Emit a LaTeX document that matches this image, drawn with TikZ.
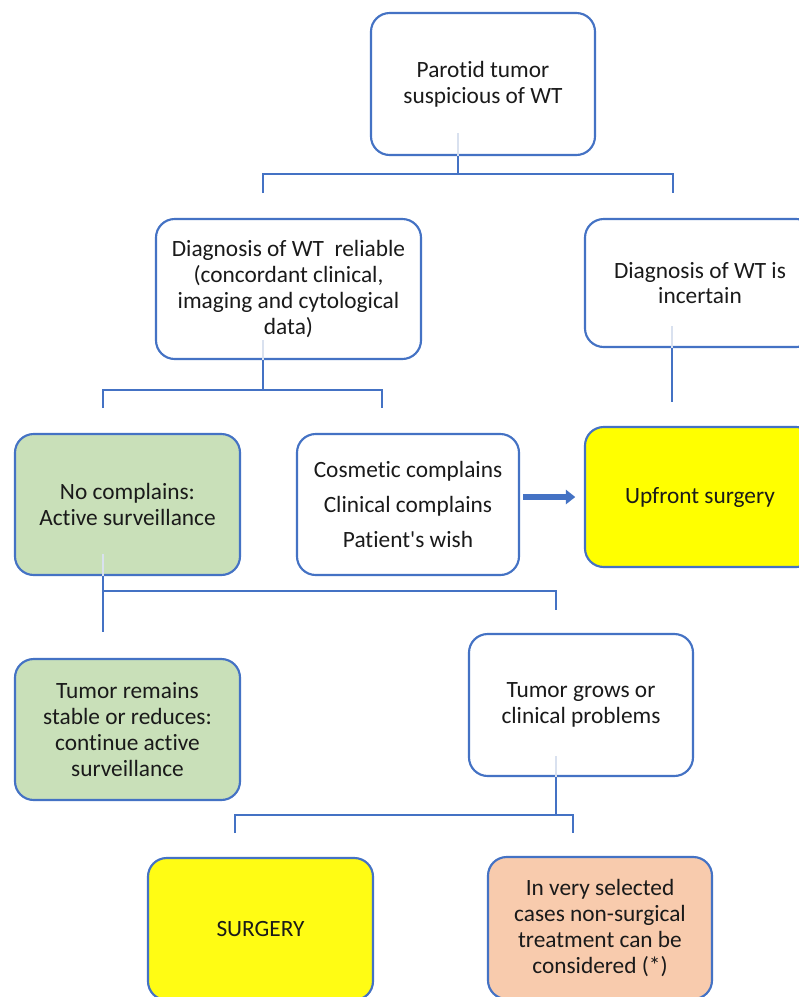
\documentclass[tikz,border=0pt]{standalone}
\usepackage{fontspec}
\setmainfont[Ligatures={NoCommon}]{Carlito}
\usetikzlibrary{arrows.meta}
\definecolor{obl}{HTML}{4472C4}
\definecolor{fnt}{HTML}{D9E1EF}
\definecolor{txt}{HTML}{1A1A1A}
\definecolor{grn}{HTML}{C9E0B9}
\definecolor{ylw}{HTML}{FFFF00}
\definecolor{ylw2}{HTML}{FFFC14}
\definecolor{pch}{HTML}{F8CBAD}
\begin{document}
\begin{tikzpicture}[x=0.75pt,y=-0.75pt,
  box/.style={draw=obl, line width=1.6pt, rounded corners=14pt, align=center,
    inner sep=0pt, text=txt, font=\fontsize{17.5}{19.3}\selectfont},
  conn/.style={draw=obl, line width=1.9pt, line join=miter},
  faint/.style={draw=fnt, line width=1.5pt},
  arr/.style={draw=obl, line width=3.8pt, -{Triangle[length=7pt,width=10.5pt]}}]
\clip (0,0) rectangle (799,997);
\fill[white] (0,0) rectangle (799,997);

% boxes
\node[box, fill=white, minimum width=168pt, minimum height=106.5pt] (top) at (483,84)
  {Parotid tumor\\suspicious of WT};
\node[box, fill=white, minimum width=198.75pt, minimum height=105pt] (rel) at (288.5,289)
  {Diagnosis of WT~ reliable\\(concordant clinical,\\imaging and cytological\\data)};
\node[box, fill=white, minimum width=172.5pt, minimum height=96pt] (unc) at (700,283)
  {Diagnosis of WT is\\incertain};
\node[box, fill=grn, minimum width=168.75pt, minimum height=105.75pt] (noc) at (127.5,504.5)
  {No complains:\\Active surveillance};
\node[box, fill=white, minimum width=166.5pt, minimum height=105.75pt] (cos) at (408,504.5)
  {Cosmetic complains\\[7pt]Clinical complains\\[7pt]Patient\textquotesingle s wish};
\node[box, fill=ylw, minimum width=172.5pt, minimum height=105pt] (up) at (700,497)
  {Upfront surgery};
\node[box, fill=grn, minimum width=168.75pt, minimum height=105.75pt] (stab) at (127.5,729.5)
  {Tumor remains\\stable or reduces:\\continue active\\surveillance};
\node[box, fill=white, minimum width=168pt, minimum height=106.5pt] (grow) at (581,705)
  {Tumor grows or\\clinical problems};
\node[box, fill=ylw2, minimum width=168.75pt, minimum height=106.5pt] (surg) at (260.5,929)
  {SURGERY};
\node[box, fill=pch, minimum width=168pt, minimum height=106.5pt] (nons) at (600,928)
  {In very selected\\cases non-surgical\\treatment can be\\considered (*)};

% junction coordinates
\coordinate (a0) at (458,174);
\coordinate (aL) at (263,174);
\coordinate (aLe) at (263,193);
\coordinate (aR) at (673,174);
\coordinate (aRe) at (673,193);
\coordinate (b0) at (263,390);
\coordinate (bL) at (103,390);
\coordinate (bLe) at (103,408);
\coordinate (bR) at (382,390);
\coordinate (bRe) at (382,408);
\coordinate (c0) at (672,402);
\coordinate (d0) at (103,632);
\coordinate (d1) at (103,591);
\coordinate (dR) at (556,591);
\coordinate (dRe) at (556,610);
\coordinate (e0) at (556,815);
\coordinate (eL) at (235,815);
\coordinate (eLe) at (235,833);
\coordinate (eR) at (573,815);
\coordinate (eRe) at (573,833);

% faint stubs inside boxes
\draw[faint] (top.south -| a0) ++(0,-23) -- (top.south -| a0);
\draw[faint] (rel.south -| b0) ++(0,-20) -- (rel.south -| b0);
\draw[faint] (unc.south -| c0) ++(0,-22) -- (unc.south -| c0);
\draw[faint] (noc.south -| d0) ++(0,-22) -- (noc.south -| d0);
\draw[faint] (grow.south -| e0) ++(0,-21) -- (grow.south -| e0);

% connectors
\draw[conn] (top.south -| a0) -- (a0);
\draw[conn] (aLe) -- (aL) -- (aR) -- (aRe);
\draw[conn] (rel.south -| b0) -- (b0);
\draw[conn] (bLe) -- (bL) -- (bR) -- (bRe);
\draw[conn] (unc.south -| c0) -- (c0);
\draw[conn] (noc.south -| d0) -- (d0);
\draw[conn] (d1) -- (dR) -- (dRe);
\draw[conn] (grow.south -| e0) -- (e0);
\draw[conn] (eLe) -- (eL) -- (eR) -- (eRe);

% arrow
\path (cos.east |- up.west) coordinate (arS);
\draw[arr] ([xshift=2.5pt]arS) -- ([xshift=-6.5pt]up.west);
\end{tikzpicture}
\end{document}
